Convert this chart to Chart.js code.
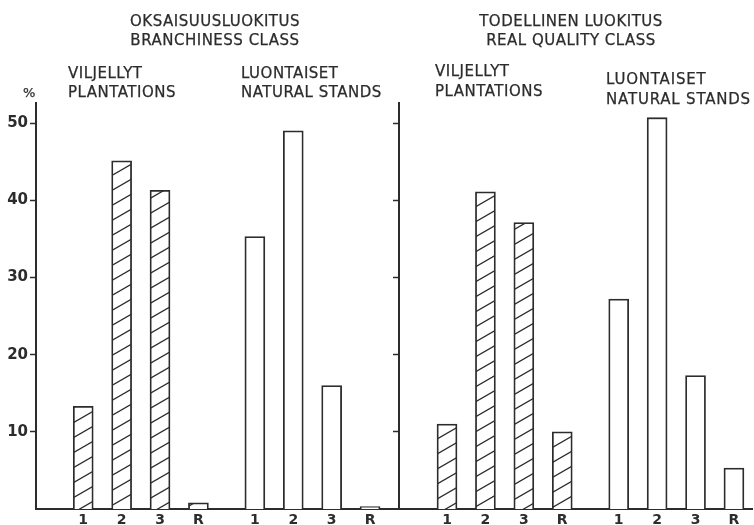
<!DOCTYPE html>
<html>
<head>
<meta charset="utf-8">
<script src="https://cdn.jsdelivr.net/npm/chart.js@4"></script>
<style>
html, body { margin: 0; padding: 0; background: #fff; }
#wrap { position: relative; width: 754px; height: 525px; overflow: hidden; font-family: "DejaVu Sans", sans-serif; color: #2c2c2c; }
canvas { position: absolute; top: 0; }
.t { position: absolute; font-size: 15px; line-height: 19px; white-space: nowrap; letter-spacing: 0.5px; -webkit-text-stroke: 0.25px #2c2c2c; }
.c { text-align: center; transform: translateX(-50%); }
</style>
</head>
<body>
<div id="wrap">
  <canvas id="cL" width="400" height="525" style="left:0px"></canvas>
  <canvas id="cR" width="362" height="525" style="left:392px"></canvas>

  <div class="t c" style="left:215px; top:12px;">OKSAISUUSLUOKITUS<br>BRANCHINESS CLASS</div>
  <div class="t c" style="left:571px; top:12px;">TODELLINEN LUOKITUS<br>REAL QUALITY CLASS</div>

  <div class="t" style="left:68px; top:64px;">VILJELLYT<br>PLANTATIONS</div>
  <div class="t" style="left:241px; top:64px;">LUONTAISET<br>NATURAL STANDS</div>
  <div class="t" style="left:435px; top:61px; line-height:20px;">VILJELLYT<br>PLANTATIONS</div>
  <div class="t" style="left:606px; top:69px; line-height:20px; letter-spacing:0.8px;">LUONTAISET<br>NATURAL STANDS</div>

  <div class="t" style="left:23px; top:83px; font-size:13px;">%</div>
</div>

<script>
// ---- data ----
const classes = ['1', '2', '3', 'R'];
const branchinessPlantations = [13.3, 45.1, 41.3, 0.8];
const branchinessNatural     = [35.3, 49.0, 16.0, 0.3];
const qualityPlantations     = [11.0, 41.1, 37.1, 10.0];
const qualityNatural         = [27.2, 50.7, 17.3, 5.3];
const yTickValues = [10, 20, 30, 40, 50];

// ---- styling / layout ----
const INK = '#2c2c2c';
const FONT = '"DejaVu Sans", sans-serif';
const GROUP_SHIFT = 4.47;   // gap between plantation and natural groups (in class slots)

function hatchPattern() {
  const W = 26, H = 15;
  const c = document.createElement('canvas');
  c.width = W; c.height = H;
  const g = c.getContext('2d');
  g.fillStyle = '#fff';
  g.fillRect(0, 0, W, H);
  g.strokeStyle = INK;
  g.lineWidth = 1.3;
  for (const k of [0, 1, 2]) {
    g.beginPath();
    g.moveTo(-2, k * H + 2 * H / W);
    g.lineTo(W + 2, k * H - H - 2 * H / W);
    g.stroke();
  }
  return g.createPattern(c, 'repeat');
}
const HATCH = hatchPattern();

function makePanel(id, plant, natural, cfg) {
  const plantPos = plant.map((_, i) => i);
  const natPos = natural.map((_, i) => i + GROUP_SHIFT);
  return new Chart(document.getElementById(id), {
    type: 'bar',
    data: {
      datasets: [
        {
          label: 'Plantations',
          data: plant.map((v, i) => ({ x: plantPos[i], y: v })),
          backgroundColor: HATCH,
          borderColor: INK,
          borderWidth: 1.8,
          barThickness: 20,
          grouped: false
        },
        {
          label: 'Natural stands',
          data: natural.map((v, i) => ({ x: natPos[i], y: v })),
          backgroundColor: '#fff',
          borderColor: INK,
          borderWidth: 1.8,
          barThickness: 20,
          grouped: false
        }
      ]
    },
    options: {
      responsive: false,
      animation: false,
      devicePixelRatio: 1,
      layout: { padding: { top: 103, right: cfg.padRight, left: 0, bottom: 0 } },
      plugins: { legend: { display: false }, tooltip: { enabled: false } },
      scales: {
        x: {
          type: 'linear',
          offset: false,
          min: cfg.xMin,
          max: cfg.xMax,
          grid: { display: false, drawTicks: false },
          border: { display: true, color: INK, width: 2 },
          afterBuildTicks: s => { s.ticks = plantPos.concat(natPos).map(v => ({ value: v })); },
          ticks: {
            autoSkip: false, maxRotation: 0,
            callback: (v, i) => classes[i % classes.length],
            font: { family: FONT, size: 14, weight: '600' },
            color: INK,
            padding: 3
          },
          afterFit: s => { s.height = 16; }
        },
        y: {
          type: 'linear',
          min: 0,
          max: 52.6,
          afterBuildTicks: s => { s.ticks = yTickValues.map(v => ({ value: v })); },
          ticks: {
            display: cfg.labels,
            font: { family: FONT, size: 15, weight: '600' },
            color: INK,
            padding: 2
          },
          grid: { display: true, drawOnChartArea: false, drawTicks: true, tickLength: 6, tickWidth: 1.5, tickColor: INK },
          border: { display: true, color: INK, width: 2 },
          afterFit: s => { s.width = cfg.yWidth; }
        }
      }
    }
  });
}

makePanel('cL', branchinessPlantations, branchinessNatural, { labels: true, yWidth: 36, padRight: 0, xMin: -1.23, xMax: 8.25 });
makePanel('cR', qualityPlantations, qualityNatural, { labels: false, yWidth: 7, padRight: 2, xMin: -1.25, xMax: 7.94 });
</script>
</body>
</html>
